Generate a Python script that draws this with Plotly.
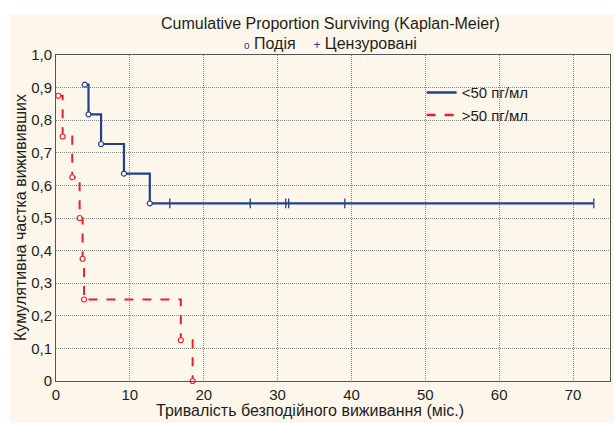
import plotly.graph_objects as go

# Group <50 pg/ml
low_t = [3.9, 4.4, 6.1, 9.2, 12.7, 72.8]
low_s = [0.909, 0.818, 0.727, 0.636, 0.545, 0.545]
low_event_t = [3.9, 4.4, 6.1, 9.2, 12.7]
low_event_s = [0.909, 0.818, 0.727, 0.636, 0.545]
low_cens_t = [15.4, 26.3, 31.1, 31.5, 39.1, 72.8]
low_cens_s = [0.545, 0.545, 0.545, 0.545, 0.545, 0.545]

# Group >50 pg/ml
high_t = [0.3, 0.9, 2.2, 3.2, 3.6, 3.8, 16.9, 18.5]
high_s = [0.875, 0.75, 0.625, 0.5, 0.375, 0.25, 0.125, 0.0]

y_ticks = [0, 0.1, 0.2, 0.3, 0.4, 0.5, 0.6, 0.7, 0.8, 0.9, 1.0]
y_ticktext = ["0", "0,1", "0,2", "0,3", "0,4", "0,5", "0,6", "0,7", "0,8", "0,9", "1,0"]
x_ticks = [0, 10, 20, 30, 40, 50, 60, 70]

BLUE = "#23408e"
RED = "#e8202a"
FONT = "Liberation Sans, Arial, sans-serif"
TXT = "#1e1e1e"

fig = go.Figure()

fig.add_trace(go.Scatter(x=low_t, y=low_s, mode="lines", line=dict(color=BLUE, width=2.2, shape="hv"),
                         showlegend=False, hoverinfo="skip"))
fig.add_trace(go.Scatter(x=low_event_t, y=low_event_s, mode="markers",
                         marker=dict(symbol="circle", size=5, color="white", line=dict(color=BLUE, width=1.2)),
                         showlegend=False))
fig.add_trace(go.Scatter(x=low_cens_t, y=low_cens_s, mode="markers",
                         marker=dict(symbol="line-ns", size=7, color=BLUE, line=dict(color=BLUE, width=1.3)),
                         showlegend=False))
fig.add_trace(go.Scatter(x=high_t, y=high_s, mode="lines",
                         line=dict(color=RED, width=2, shape="hv", dash="dash"),
                         showlegend=False, hoverinfo="skip"))
fig.add_trace(go.Scatter(x=high_t, y=high_s, mode="markers",
                         marker=dict(symbol="circle", size=5, color="white", line=dict(color=RED, width=1.2)),
                         showlegend=False, cliponaxis=False))

# legend entries
fig.add_trace(go.Scatter(x=[None], y=[None], mode="lines", name="<50 пг/мл",
                         line=dict(color=BLUE, width=2.5)))
fig.add_trace(go.Scatter(x=[None], y=[None], mode="lines", name=">50 пг/мл",
                         line=dict(color=RED, width=2.5, dash="dash")))

grid = dict(showgrid=True, gridcolor="#8a8a8a", griddash="1px,1px", gridwidth=1,
            showline=True, linecolor="#555555", linewidth=1, mirror=True,
            zeroline=False, ticks="", tickfont=dict(family=FONT, size=15, color=TXT))

fig.update_xaxes(range=[0, 75], tickvals=x_ticks, **grid)
fig.update_yaxes(range=[0, 1], tickvals=y_ticks, ticktext=y_ticktext, **grid)

fig.update_layout(
    width=614, height=423,
    margin=dict(l=56, r=4, t=55, b=42),
    paper_bgcolor="white", plot_bgcolor="white",
    font=dict(family=FONT, size=15, color=TXT),
    legend=dict(x=0.66, y=0.935, xanchor="left", yanchor="top", bgcolor="rgba(0,0,0,0)",
                font=dict(family=FONT, size=15, color=TXT), itemwidth=30,
                tracegroupgap=0),
    shapes=[dict(type="rect", xref="paper", yref="paper", x0=-0.083, x1=1.01, y0=-0.13, y1=1.125,
                 fillcolor="#fcf7ea", line=dict(width=0), layer="below")],
    annotations=[
        dict(text="Cumulative Proportion Surviving (Kaplan-Meier)", xref="paper", yref="paper",
             x=0.495, y=1.0 + (55 - 24) / 326, xanchor="center", yanchor="middle", showarrow=False,
             font=dict(family=FONT, size=16, color=TXT)),
        dict(text=f"<span style='color:{BLUE};font-size:10px'>o</span> Подія    "
                  f"<span style='color:{BLUE};font-size:12px'>+</span> Цензуровані",
             xref="paper", yref="paper", x=0.495, y=1.0 + (55 - 43) / 326,
             xanchor="center", yanchor="middle", showarrow=False,
             font=dict(family=FONT, size=16, color=TXT)),
        dict(text="Кумулятивна частка вижививших", xref="paper", yref="paper",
             x=-(56 - 20) / 554, y=0.5, xanchor="center", yanchor="middle", textangle=-90,
             showarrow=False, font=dict(family=FONT, size=16, color=TXT)),
        dict(text="Тривалість безподійного виживання (міс.)", xref="paper", yref="paper",
             x=(310 - 56) / 554, y=-(410 - 381) / 326, xanchor="center", yanchor="middle",
             showarrow=False, font=dict(family=FONT, size=16, color=TXT)),
    ],
)

fig.write_html("out.html", config={"displayModeBar": False},
               post_script="document.body.style.margin='0';document.body.style.overflow='hidden';")
